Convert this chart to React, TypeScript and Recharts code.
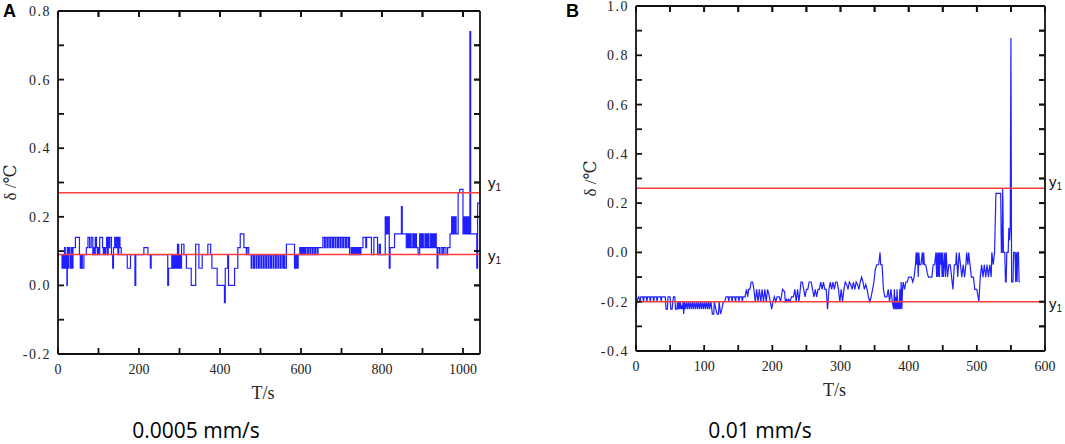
import { LineChart, Line, XAxis, YAxis, ReferenceLine } from 'recharts';

// [T (s), delta (°C)], 0.0005 mm/s
const pointsA: [number, number][] = [
  [8, 0.09], [10, 0.05], [12, 0.09], [14, 0.05], [16, 0.11], [18, 0.05], [20, 0.09], [22, 0.0], [23, 0.11],
  [25, 0.05], [27, 0.11], [29, 0.09], [31, 0.05], [33, 0.11], [35, 0.05], [37, 0.11], [43, 0.14], [53, 0.09],
  [55, 0.05], [58, 0.09], [60, 0.05], [64, 0.09], [70, 0.11], [74, 0.14], [78, 0.11], [82, 0.14], [86, 0.09],
  [88, 0.11], [90, 0.09], [92, 0.14], [95, 0.11], [97, 0.09], [99, 0.11], [101, 0.09], [103, 0.14], [110, 0.11],
  [112, 0.09], [114, 0.11], [116, 0.09], [118, 0.11], [120, 0.14], [122, 0.09], [124, 0.14], [126, 0.11],
  [128, 0.14], [132, 0.09], [135, 0.05], [137, 0.11], [140, 0.14], [143, 0.11], [145, 0.14], [148, 0.09],
  [150, 0.14], [153, 0.11], [156, 0.09], [171, 0.05], [179, 0.09], [190, 0.0], [192, 0.09], [212, 0.11],
  [222, 0.09], [228, 0.05], [230, 0.09], [271, 0.0], [273, 0.05], [281, 0.09], [283, 0.05], [286, 0.09],
  [288, 0.05], [291, 0.09], [293, 0.05], [295, 0.12], [298, 0.05], [300, 0.09], [302, 0.05], [305, 0.12],
  [311, 0.09], [317, 0.05], [329, 0.0], [340, 0.12], [348, 0.05], [356, 0.09], [370, 0.12], [377, 0.09],
  [380, 0.05], [393, 0.0], [411, -0.05], [413, 0.05], [419, 0.09], [421, 0.0], [436, 0.05], [444, 0.11],
  [450, 0.15], [459, 0.11], [465, 0.09], [467, 0.11], [471, 0.09],
  [477, 0.05], [479, 0.09], [483, 0.05], [485, 0.09], [489, 0.05], [491, 0.09], [495, 0.05], [497, 0.09],
  [501, 0.05], [503, 0.09], [507, 0.05], [509, 0.09], [513, 0.05], [515, 0.09], [519, 0.05], [521, 0.09],
  [525, 0.05], [527, 0.09], [531, 0.05], [533, 0.09], [537, 0.05], [539, 0.09], [543, 0.05], [545, 0.09],
  [549, 0.05], [551, 0.09], [555, 0.05], [557, 0.09], [560, 0.05],
  [564, 0.12], [584, 0.05], [587, 0.09], [590, 0.05], [593, 0.09], [597, 0.11], [600, 0.09], [602, 0.11],
  [605, 0.09], [607, 0.11], [610, 0.09], [612, 0.11], [616, 0.09], [618, 0.11], [622, 0.09], [624, 0.11],
  [628, 0.09], [630, 0.11], [634, 0.09], [636, 0.11], [640, 0.09], [642, 0.11],
  [654, 0.14], [658, 0.11], [660, 0.14], [664, 0.11], [667, 0.14], [671, 0.11], [673, 0.14], [677, 0.11],
  [680, 0.14], [684, 0.11], [686, 0.14], [690, 0.11], [693, 0.14], [697, 0.11], [699, 0.14], [703, 0.11],
  [706, 0.14], [710, 0.11], [712, 0.14], [716, 0.11], [717, 0.14],
  [720, 0.09], [724, 0.11], [727, 0.09], [730, 0.11], [733, 0.09], [736, 0.11], [739, 0.09], [742, 0.11],
  [745, 0.09], [748, 0.11], [753, 0.14], [760, 0.11], [762, 0.14], [774, 0.09], [780, 0.14], [789, 0.09],
  [793, 0.12], [796, 0.09], [808, 0.2], [810, 0.15], [812, 0.2], [814, 0.15], [816, 0.2], [818, 0.05],
  [820, 0.11], [831, 0.15], [848, 0.23], [850, 0.15], [860, 0.11],
  [863, 0.15], [866, 0.11], [869, 0.15], [872, 0.11], [876, 0.15], [879, 0.11], [882, 0.15], [885, 0.11],
  [889, 0.09], [893, 0.15], [896, 0.11], [899, 0.15], [902, 0.11], [906, 0.15], [909, 0.11], [912, 0.15],
  [915, 0.11], [919, 0.15], [922, 0.11], [925, 0.15], [928, 0.11], [931, 0.15], [934, 0.11],
  [936, 0.05], [938, 0.11], [942, 0.09], [946, 0.11], [950, 0.09], [953, 0.11], [958, 0.09],
  [962, 0.11], [968, 0.15], [972, 0.2], [974, 0.15], [976, 0.2], [978, 0.15], [980, 0.2], [983, 0.15],
  [988, 0.27], [992, 0.28], [1000, 0.15], [1003, 0.2], [1005, 0.15], [1008, 0.2], [1010, 0.15], [1013, 0.2],
  [1015, 0.15], [1017, 0.74], [1019, 0.15], [1034, 0.05], [1036, 0.24], [1041, 0.24],
];

// [T (s), delta (°C)], 0.01 mm/s
const pointsB: [number, number][] = [
  [0, -0.23], [2, -0.19], [4, -0.18], [6, -0.2], [7, -0.18], [10, -0.18], [11, -0.2], [12, -0.18], [15, -0.18],
  [16, -0.2], [17, -0.18], [20, -0.18], [21, -0.2], [22, -0.18], [25, -0.18], [26, -0.2], [27, -0.18],
  [30, -0.18], [31, -0.2], [32, -0.18], [36, -0.18], [37, -0.2], [38, -0.18], [43, -0.18], [44, -0.23],
  [46, -0.23], [47, -0.18], [50, -0.18], [51, -0.23], [53, -0.23], [54, -0.2], [55, -0.18], [57, -0.18],
  [58, -0.23], [60, -0.23], [61, -0.2], [62, -0.23], [63, -0.2], [64, -0.23], [65, -0.2], [66, -0.23],
  [67, -0.22], [68, -0.23], [69, -0.2], [70, -0.25], [71, -0.2], [72, -0.23], [74, -0.2], [75, -0.23],
  [77, -0.2], [78, -0.23], [80, -0.2], [81, -0.23], [83, -0.2], [84, -0.23], [86, -0.2], [87, -0.23],
  [89, -0.2], [90, -0.23], [92, -0.2], [93, -0.23], [95, -0.2], [96, -0.23], [98, -0.2], [99, -0.23],
  [101, -0.2], [102, -0.23], [104, -0.2], [105, -0.23], [107, -0.2], [108, -0.23], [110, -0.2], [112, -0.25],
  [114, -0.25], [115, -0.2], [117, -0.23], [119, -0.25], [121, -0.25], [122, -0.2], [124, -0.25], [126, -0.23],
  [128, -0.2], [130, -0.2], [132, -0.18], [135, -0.18], [136, -0.2], [137, -0.18], [140, -0.18], [141, -0.2],
  [142, -0.18], [145, -0.18], [146, -0.2], [147, -0.18], [150, -0.18], [151, -0.2], [152, -0.18], [155, -0.18],
  [156, -0.2], [157, -0.18], [160, -0.18], [162, -0.15], [164, -0.18], [165, -0.15], [167, -0.15], [169, -0.12],
  [171, -0.12], [173, -0.15], [175, -0.2], [177, -0.15], [179, -0.2], [181, -0.15], [183, -0.2], [185, -0.15],
  [187, -0.2], [189, -0.15], [191, -0.2], [193, -0.15], [195, -0.17], [199, -0.23], [201, -0.2], [203, -0.18],
  [205, -0.2], [207, -0.18], [210, -0.18], [212, -0.2], [215, -0.15], [218, -0.16], [219, -0.2], [221, -0.19],
  [222, -0.2], [224, -0.19], [226, -0.2], [228, -0.18], [231, -0.18], [233, -0.15], [235, -0.2], [237, -0.15],
  [239, -0.2], [241, -0.15], [242, -0.12], [244, -0.12], [246, -0.15], [248, -0.18], [250, -0.15], [252, -0.15],
  [254, -0.12], [257, -0.12], [259, -0.15], [261, -0.18], [263, -0.15], [265, -0.18], [267, -0.15], [269, -0.15],
  [271, -0.12], [273, -0.15], [275, -0.12], [277, -0.15], [279, -0.15], [281, -0.23], [283, -0.15], [285, -0.12],
  [287, -0.15], [289, -0.12], [291, -0.15], [293, -0.12], [295, -0.12], [297, -0.15], [299, -0.2], [301, -0.15],
  [303, -0.2], [305, -0.15], [307, -0.12], [309, -0.13], [311, -0.15], [313, -0.12], [315, -0.13], [317, -0.15],
  [319, -0.12], [321, -0.15], [323, -0.12], [325, -0.13], [327, -0.15], [329, -0.12], [331, -0.1], [333, -0.12],
  [335, -0.15], [337, -0.13], [339, -0.15], [341, -0.18], [343, -0.2], [345, -0.18], [347, -0.15], [349, -0.12],
  [351, -0.07], [353, -0.05], [356, -0.05], [358, 0.0], [359, -0.05], [361, -0.05], [363, -0.15], [365, -0.18],
  [368, -0.18], [370, -0.15], [372, -0.2], [374, -0.15], [376, -0.2], [378, -0.23], [379, -0.15], [380, -0.23],
  [381, -0.18], [382, -0.23], [383, -0.15], [384, -0.23], [385, -0.2], [386, -0.23], [387, -0.15], [388, -0.23],
  [389, -0.12], [390, -0.23], [391, -0.15], [392, -0.12], [394, -0.15], [396, -0.12], [398, -0.12], [400, -0.1],
  [404, -0.1], [406, -0.12], [408, -0.1], [410, -0.05], [411, 0.0], [412, -0.05], [413, 0.0], [414, -0.1],
  [415, 0.0], [416, -0.05], [418, -0.05], [420, 0.0], [421, -0.05], [422, 0.0], [423, -0.05], [425, -0.05],
  [427, -0.08], [429, -0.1], [434, -0.1], [436, -0.05], [438, -0.05], [440, 0.0], [441, -0.1], [442, 0.0],
  [443, -0.1], [444, 0.0], [445, -0.1], [446, 0.0], [447, -0.05], [448, 0.0], [449, -0.1], [450, 0.0],
  [451, -0.1], [452, -0.05], [453, 0.0], [454, -0.1], [455, 0.0], [456, -0.05], [457, -0.1], [459, -0.05],
  [461, -0.05], [463, -0.1], [465, -0.15], [467, -0.05], [469, -0.05], [470, 0.0], [472, -0.1], [474, 0.0],
  [476, -0.05], [478, -0.1], [480, -0.05], [482, -0.1], [484, -0.05], [485, 0.0], [487, -0.05], [488, 0.0],
  [490, -0.05], [492, -0.1], [495, -0.1], [497, -0.15], [500, -0.15], [503, -0.2], [505, -0.1], [507, -0.05],
  [509, -0.1], [511, -0.05], [513, -0.1], [515, -0.05], [517, -0.1], [519, -0.05], [521, -0.1], [522, 0.0],
  [524, -0.05], [526, 0.0], [528, 0.24], [535, 0.24], [536, 0.0], [537, 0.0], [538, 0.26], [539, 0.0],
  [541, 0.0], [542, -0.12], [543, -0.12], [544, 0.0], [546, 0.0], [547, 0.1], [548, 0.05], [549, 0.1],
  [550, 0.87], [551, -0.12], [553, -0.12], [554, 0.0], [556, 0.0], [557, -0.12], [558, 0.0], [559, -0.12],
  [560, 0.0], [561, 0.0], [562, -0.12], [563, -0.12],
];

const xTicksA = [0, 100, 200, 300, 400, 500, 600, 700, 800, 900, 1000];
const yTicksA = [-0.2, -0.1, 0, 0.1, 0.2, 0.3, 0.4, 0.5, 0.6, 0.7, 0.8];
const xTicksB = [0, 50, 100, 150, 200, 250, 300, 350, 400, 450, 500, 550, 600];
const yTicksB = [-0.4, -0.3, -0.2, -0.1, 0, 0.1, 0.2, 0.3, 0.4, 0.5, 0.6, 0.7, 0.8, 0.9, 1.0];
const limitsA = [0.27, 0.09];
const limitsB = [0.26, -0.2];
const panelNames = ['A', 'B'];
const speedNames = ['0.0005 mm/s', '0.01 mm/s'];

const AXIS = '#111';
const TICK_TEXT = '#222';
const SERIF = 'Liberation Serif, DejaVu Serif, serif';
const SANS = 'Liberation Sans, Arial, sans-serif';
const BLUE = '#2020ff';
const RED = '#ff3c3c';
// negative size turns Recharts' own tick lines inward
const INWARD = -6;
const X_AXIS_H = 44;

const isMajor = (v: number, step: number) => Math.abs(v / step - Math.round(v / step)) < 1e-6;

function BottomLabel(props: any) {
  const { x, y, payload, step } = props;
  const v = payload.value;
  if (!isMajor(v, step)) return <g />;
  return (
    <text x={x} y={y + 20} textAnchor="middle" fontFamily={SERIF} fontSize={14} fill={TICK_TEXT}>
      {String(v)}
    </text>
  );
}

function LeftLabel(props: any) {
  const { x, y, payload, step } = props;
  const v = payload.value;
  if (!isMajor(v, step)) return <g />;
  return (
    <text x={x - 7} y={y + 5} textAnchor="end" fontFamily={SERIF} fontSize={14} fill={TICK_TEXT} letterSpacing={1.5}>
      {v.toFixed(1)}
    </text>
  );
}

const NoLabel = () => <g />;

interface PanelProps {
  points: [number, number][];
  width: number;
  height: number;
  margin: { top: number; right: number; bottom: number; left: number };
  yAxisWidth: number;
  xMax: number;
  xTicks: number[];
  xStep: number;
  yDomain: [number, number];
  yTicks: number[];
  limits: number[];
  limitDy: number[];
  limitDx: number;
  titleX: number;
  lineType: 'stepAfter' | 'linear';
}

function Panel(p: PanelProps) {
  const data = p.points.map(([t, v]) => ({ t, v }));
  const axisLine = { stroke: AXIS, strokeWidth: 1.8 };
  const tickLine = { stroke: AXIS, strokeWidth: 1.8 };
  const [yMin, yMax] = p.yDomain;
  // tick length on the top and right frame, in data units
  const plotH = p.height - p.margin.top - p.margin.bottom - X_AXIS_H - 1;
  const plotW = p.width - p.margin.left - p.margin.right - p.yAxisWidth - 1;
  const tickDy = ((yMax - yMin) * -INWARD) / plotH;
  const tickDx = (p.xMax * -INWARD) / plotW;
  return (
    <LineChart width={p.width} height={p.height} data={data} margin={p.margin}>
      <XAxis
        dataKey="t"
        type="number"
        domain={[0, p.xMax]}
        allowDataOverflow
        ticks={p.xTicks}
        interval={0}
        height={X_AXIS_H}
        tickSize={INWARD}
        tickMargin={-INWARD}
        tickLine={tickLine}
        axisLine={axisLine}
        tick={(tp: any) => <BottomLabel {...tp} step={p.xStep} />}
        label={(lp: any) => {
          const vb = lp.viewBox;
          return (
            <text x={vb.x + vb.width / 2 - 6} y={vb.y + 45} textAnchor="middle" fontFamily={SERIF} fontSize={18} fill={TICK_TEXT}>
              T/s
            </text>
          );
        }}
      />
      <XAxis
        xAxisId="top"
        orientation="top"
        dataKey="t"
        type="number"
        domain={[0, p.xMax]}
        allowDataOverflow
        ticks={p.xTicks}
        interval={0}
        height={1}
        tickSize={INWARD}
        tickMargin={-INWARD}
        tickLine={tickLine}
        axisLine={axisLine}
        tick={NoLabel}
      />
      <YAxis
        type="number"
        domain={p.yDomain}
        allowDataOverflow
        ticks={p.yTicks}
        interval={0}
        width={p.yAxisWidth}
        tickSize={INWARD}
        tickMargin={-INWARD}
        tickLine={tickLine}
        axisLine={axisLine}
        tick={(tp: any) => <LeftLabel {...tp} step={0.2} />}
        label={(lp: any) => {
          const vb = lp.viewBox;
          const cy = vb.y + vb.height / 2;
          return (
            <text
              transform={`translate(${vb.x + p.titleX}, ${cy}) rotate(-90)`}
              textAnchor="middle"
              dominantBaseline="central"
              fontFamily={SERIF}
              fontSize={17}
              fill={TICK_TEXT}
            >
              δ /℃
            </text>
          );
        }}
      />
      <YAxis
        yAxisId="right"
        orientation="right"
        type="number"
        domain={p.yDomain}
        allowDataOverflow
        ticks={p.yTicks}
        interval={0}
        width={1}
        tickSize={INWARD}
        tickMargin={-INWARD}
        tickLine={tickLine}
        axisLine={axisLine}
        tick={NoLabel}
      />
      {/* invisible copy of the series so the top and right frame axes get a scale */}
      <Line
        xAxisId="top"
        yAxisId="right"
        type={p.lineType}
        dataKey="v"
        stroke="none"
        strokeOpacity={0}
        dot={false}
        activeDot={false}
        legendType="none"
        isAnimationActive={false}
      />
      <Line
        type={p.lineType}
        dataKey="v"
        stroke={BLUE}
        strokeWidth={1.2}
        dot={false}
        activeDot={false}
        isAnimationActive={false}
      />
      {/* inward tick marks on the top and right edges of the frame */}
      {p.xTicks.map((t) => (
        <ReferenceLine
          key={`top-${t}`}
          segment={[{ x: t, y: yMax }, { x: t, y: yMax - tickDy }]}
          stroke={AXIS}
          strokeWidth={1.8}
          ifOverflow="visible"
        />
      ))}
      {p.yTicks.map((v) => (
        <ReferenceLine
          key={`right-${v}`}
          segment={[{ x: p.xMax, y: v }, { x: p.xMax - tickDx, y: v }]}
          stroke={AXIS}
          strokeWidth={1.8}
          ifOverflow="visible"
        />
      ))}
      {p.limits.map((lim, i) => (
        <ReferenceLine
          key={lim}
          y={lim}
          stroke={RED}
          strokeWidth={1.5}
          label={(lp: any) => {
            const vb = lp.viewBox;
            return (
              <text x={vb.x + vb.width + p.limitDx} y={vb.y + p.limitDy[i]} fontFamily={SANS} fontSize={15} fill="#111">
                <tspan>y</tspan>
                <tspan fontSize={10} dy={3}>1</tspan>
              </text>
            );
          }}
        />
      ))}
    </LineChart>
  );
}

export default function App() {
  return (
    <div style={{ position: 'absolute', left: 0, top: 0, width: 1065, height: 444, background: '#fff', overflow: 'hidden' }}>
      <div style={{ position: 'absolute', left: 0, top: 0 }}>
        <Panel
          points={pointsA}
          width={540}
          height={444}
          margin={{ top: 10, right: 59, bottom: 46, left: 0 }}
          yAxisWidth={58}
          xMax={1042}
          xTicks={xTicksA}
          xStep={200}
          yDomain={[-0.2, 0.8]}
          yTicks={yTicksA}
          limits={limitsA}
          limitDy={[-5, 6]}
          limitDx={8}
          titleX={10}
          lineType="stepAfter"
        />
      </div>
      <div style={{ position: 'absolute', left: 540, top: 0 }}>
        <Panel
          points={pointsB}
          width={525}
          height={444}
          margin={{ top: 5, right: 19, bottom: 49, left: 0 }}
          yAxisWidth={96}
          xMax={600}
          xTicks={xTicksB}
          xStep={100}
          yDomain={[-0.4, 1.0]}
          yTicks={yTicksB}
          limits={limitsB}
          limitDy={[-1, 7]}
          limitDx={4}
          titleX={50}
          lineType="linear"
        />
      </div>
      <svg width={1065} height={444} style={{ position: 'absolute', left: 0, top: 0, pointerEvents: 'none' }}>
        <text x={3} y={17} fontFamily={SANS} fontWeight="bold" fontSize={18} fill="#000">{panelNames[0]}</text>
        <text x={566} y={17} fontFamily={SANS} fontWeight="bold" fontSize={18} fill="#000">{panelNames[1]}</text>
        <text x={196} y={438} textAnchor="middle" fontFamily="Open Sans, sans-serif" fontSize={21} fill="#000">
          {speedNames[0]}
        </text>
        <text x={760} y={438} textAnchor="middle" fontFamily="Open Sans, sans-serif" fontSize={21} fill="#000">
          {speedNames[1]}
        </text>
      </svg>
    </div>
  );
}
